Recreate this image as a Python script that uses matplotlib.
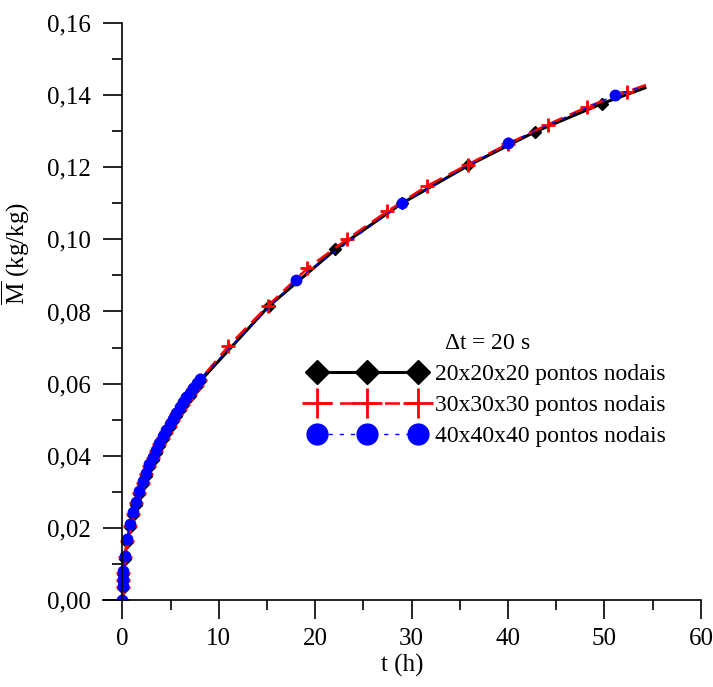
import matplotlib
matplotlib.use('Agg')
import matplotlib.pyplot as plt
from matplotlib.ticker import MultipleLocator, FuncFormatter

plt.rcParams['font.family'] = ['Liberation Serif', 'DejaVu Serif']
plt.rcParams['mathtext.fontset'] = 'custom'
plt.rcParams['mathtext.rm'] = 'Liberation Serif'

# dense part of the run (same times for all three meshes)
t_dense = [0, 0.02, 0.05, 0.1, 0.25, 0.5, 0.8, 1.1, 1.4, 1.75, 2.1, 2.45, 2.8,
           3.15, 3.5, 3.85, 4.2, 4.55, 4.9, 5.25, 5.6, 5.95, 6.3, 6.65, 7.0,
           7.35, 7.7, 8.05]

# 20x20x20 pontos nodais
t_20 = t_dense + [15.2, 22.1, 29.0, 35.9, 42.8, 49.7, 54.2]
m_20 = [0, 0.0033, 0.0052, 0.0073, 0.0115, 0.0161, 0.0202, 0.0235, 0.0264,
        0.0294, 0.0321, 0.0345, 0.0368, 0.0389, 0.0409, 0.0428, 0.0446,
        0.0463, 0.0479, 0.0495, 0.0511, 0.0526, 0.0540, 0.0554, 0.0567,
        0.0581, 0.0593, 0.0606,
        0.0815, 0.0972, 0.1100, 0.1205, 0.1298, 0.1376, 0.1420]

# 30x30x30 pontos nodais
t_30 = t_dense + [11.0, 15.1, 19.2, 23.3, 27.5, 31.6, 35.8, 40.0, 44.1,
                  48.2, 52.3, 54.3]
m_30 = [0, 0.0035, 0.0055, 0.0076, 0.0118, 0.0165, 0.0206, 0.0239, 0.0268,
        0.0298, 0.0325, 0.0349, 0.0372, 0.0393, 0.0413, 0.0432, 0.0450,
        0.0467, 0.0483, 0.0499, 0.0515, 0.0530, 0.0544, 0.0558, 0.0571,
        0.0585, 0.0597, 0.0610,
        0.0704, 0.0816, 0.0920, 0.1000, 0.1078, 0.1148, 0.1207, 0.1265,
        0.1318, 0.1367, 0.1409, 0.1428]

# 40x40x40 pontos nodais
t_40 = t_dense + [18.0, 29.0, 40.0, 51.1, 54.2]
m_40 = [0, 0.0038, 0.0058, 0.0080, 0.0122, 0.0169, 0.0210, 0.0243, 0.0272,
        0.0302, 0.0329, 0.0353, 0.0376, 0.0397, 0.0417, 0.0436, 0.0454,
        0.0471, 0.0487, 0.0503, 0.0519, 0.0534, 0.0548, 0.0562, 0.0575,
        0.0589, 0.0601, 0.0614,
        0.0887, 0.1100, 0.1267, 0.1400, 0.1425]

labels = ['20x20x20 pontos nodais', '30x30x30 pontos nodais',
          '40x40x40 pontos nodais']

fig = plt.figure(figsize=(7.13, 6.87), dpi=100)
ax = fig.add_axes([0.1445, 0.1266, 0.8385, 0.84])

# markers on every point except the last one (end of the line)
ax.plot(t_20, m_20, color='black', lw=2.2, marker='D', ms=6,
        markevery=slice(0, -1), label=labels[0])
ax.plot(t_30, m_30, color='red', lw=1.8, ls=(0, (6, 3)), marker='+', ms=10.5,
        mew=2, markevery=slice(0, -1), label=labels[1])
ax.plot(t_40, m_40, color='blue', lw=1.0, ls=(0, (3, 5)), marker='o',
        ms=7.5, markevery=slice(0, -1), label=labels[2])

ax.set_xlim(-2, 60)
ax.set_ylim(0, 0.16)
ax.spines['left'].set_position(('data', 0))
ax.spines['top'].set_visible(False)
ax.spines['right'].set_visible(False)
for s in ['left', 'bottom']:
    ax.spines[s].set_linewidth(1.2)

ax.xaxis.set_major_locator(MultipleLocator(10))
ax.xaxis.set_minor_locator(MultipleLocator(5))
ax.yaxis.set_major_locator(MultipleLocator(0.02))
ax.yaxis.set_minor_locator(MultipleLocator(0.01))
ax.yaxis.set_major_formatter(FuncFormatter(lambda v, p: f'{v:.2f}'.replace('.', ',')))
ax.tick_params(which='major', direction='out', length=14, width=1.2,
               labelsize=18)
ax.tick_params(which='minor', direction='out', length=7, width=1.2)
ax.tick_params(axis='y', which='major', pad=8.5)
ax.tick_params(axis='x', which='major', pad=6)

ax.set_xlabel('t (h)', fontsize=18, labelpad=3)
ax.set_ylabel(r'$\overline{\mathrm{M}}$ (kg/kg)', fontsize=18)
ax.yaxis.set_label_coords(-0.119, 0.6)

leg = ax.legend(loc='upper left', bbox_to_anchor=(0.31, 0.50), frameon=False,
                title=r'$\Delta$t = 20 s', fontsize=17, title_fontsize=17,
                numpoints=3, markerscale=2, handlelength=4.9,
                handletextpad=0.42, labelspacing=0.41)

fig.savefig('out.png', dpi=100)
